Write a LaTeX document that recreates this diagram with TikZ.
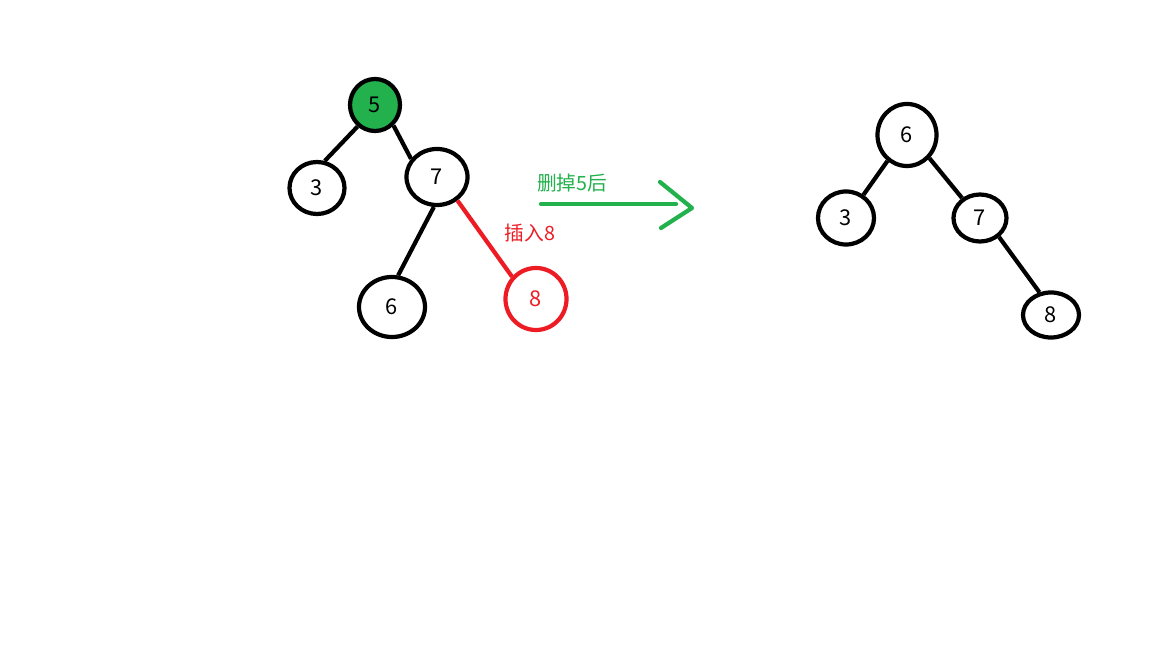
\documentclass[tikz,border=0pt]{standalone}
\usepackage{fontspec}
\setmainfont{Noto Sans CJK SC}
\usepackage{tikz}
\usetikzlibrary{shapes.geometric, calc}
\definecolor{delgreen}{HTML}{22B14C}
\definecolor{insred}{HTML}{ED1C24}
\tikzset{%
	vert/.style={draw, ellipse, line width=3pt, inner sep=0mm,%
		font=\fontsize{15.5}{18}\selectfont},
	root/.style={fill=delgreen},
	newv/.style={draw=insred, text=insred},
	connector/.style={line width=3pt},
	insedge/.style={line width=3pt, insred},
	move/.style={line width=3pt, delgreen, line cap=round, line join=round},
	lbl/.style={font=\fontsize{14}{16}\selectfont}
}
\begin{document}
\begin{tikzpicture}[x=0.025cm, y=-0.025cm]
	\useasboundingbox (0,0) rectangle (1152,648);
	% before
	\node[vert, root, minimum width=1.25cm, minimum height=1.3cm] (l5) at (375,105) {5};
	\node[vert, minimum width=1.375cm, minimum height=1.3cm] (l3) at (317,188) {3};
	\node[vert, minimum width=1.525cm, minimum height=1.4cm] (l7) at (437,177) {7};
	\node[vert, minimum width=1.65cm, minimum height=1.5cm] (l6) at (392,307) {6};
	\node[vert, newv, minimum width=1.525cm, minimum height=1.55cm] (l8) at (536,299) {8};

	\draw[connector] (l5.231) -- (l3.74);
	\draw[connector] (l5.-48) -- (l7.145);
	\draw[connector] (l7.-96) -- (l6.79);
	\draw[insedge] (l7.-49) -- (l8.137);
	\node[lbl, text=insred] (ins) at (530,233) {插入8};

	% arrow
	\coordinate (a0) at (541,204);
	\coordinate (a1) at (676,204);
	\coordinate (h1) at (660,182);
	\coordinate (tip) at (692,208);
	\coordinate (h2) at (661,228);
	\draw[move] (a0) -- (a1);
	\draw[move] (h1) -- (tip) -- (h2);
	\node[lbl, text=delgreen] (del) at (572,183) {删掉5后};

	% after
	\node[vert, minimum width=1.475cm, minimum height=1.55cm] (r6) at (907,135) {6};
	\node[vert, minimum width=1.4cm, minimum height=1.325cm] (r3) at (846,218) {3};
	\node[vert, minimum width=1.325cm, minimum height=1.175cm] (r7) at (980,218) {7};
	\node[vert, minimum width=1.4cm, minimum height=1.125cm] (r8) at (1051,315) {8};

	\draw[connector] (r6.233) -- (r3.53);
	\draw[connector] (r6.-46) -- (r7.132);
	\draw[connector] (r7.-45) -- (r8.117);
\end{tikzpicture}
\end{document}
